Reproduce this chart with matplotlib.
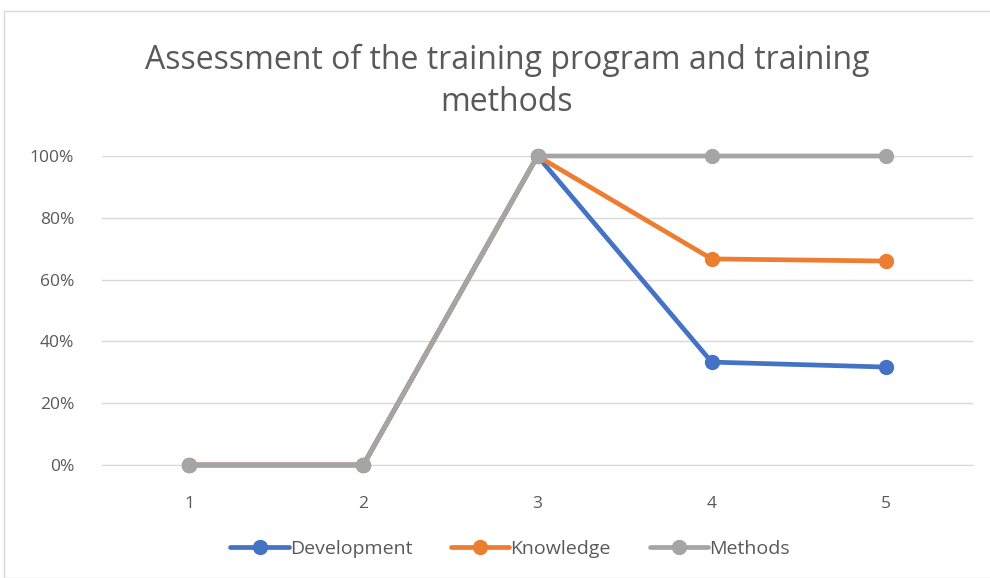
import matplotlib
matplotlib.use("Agg")
import matplotlib.pyplot as plt
from matplotlib.patches import Rectangle
from matplotlib.ticker import FuncFormatter

categories = ["1", "2", "3", "4", "5"]
development = [0.0, 0.0, 1.0, 0.333, 0.317]
knowledge = [0.0, 0.0, 1.0, 0.667, 0.66]
methods = [0.0, 0.0, 1.0, 1.0, 1.0]
series_names = ["Development", "Knowledge", "Methods"]
colors = ["#4472C4", "#ED7D31", "#A5A5A5"]

plt.rcParams['font.family'] = ['Open Sans', 'DejaVu Sans']

fig = plt.figure(figsize=(9.9, 5.78), dpi=100)
W, H = 990, 578
ax = fig.add_axes([102 / W, 1 - 465 / H, (973 - 102) / W, (465 - 156) / H])

x = list(range(1, len(categories) + 1))
for vals, name, c in zip([development, knowledge, methods], series_names, colors):
    ax.plot(x, vals, color=c, lw=3.4, marker='o', ms=10, label=name,
            solid_capstyle='round', clip_on=False, zorder=3)

ax.set_xlim(0.5, len(categories) + 0.5)
ax.set_ylim(0, 1)
ax.set_yticks([0, 0.2, 0.4, 0.6, 0.8, 1.0])
ax.yaxis.set_major_formatter(FuncFormatter(lambda v, p: f"{v*100:.0f}%"))
ax.set_xticks(x)
ax.set_xticklabels(categories)
ax.grid(axis='y', color='#D9D9D9', lw=1)
ax.set_axisbelow(True)
for s in ['top', 'right', 'left']:
    ax.spines[s].set_visible(False)
ax.spines['bottom'].set_color('#D9D9D9')
ax.tick_params(axis='both', length=0, labelsize=12.5, colors='#595959')
ax.tick_params(axis='x', pad=22)
ax.tick_params(axis='y', pad=20)

fig.text(507 / W, 1 - 81 / H, "Assessment of the training program and training\nmethods",
         ha='center', va='center', fontsize=23, color='#595959', linespacing=1.36)

leg = fig.legend(loc='center', bbox_to_anchor=(510 / W, 1 - 549 / H), ncol=3,
                 frameon=False, fontsize=14, handlelength=3.0, columnspacing=2.0,
                 handletextpad=0.05, labelcolor='#595959')

fig.patches.append(Rectangle((4 / W, 0), 1, 1 - 11 / H, transform=fig.transFigure,
                             fill=False, edgecolor='#D9D9D9', lw=1))

fig.savefig("out.png", dpi=100)
